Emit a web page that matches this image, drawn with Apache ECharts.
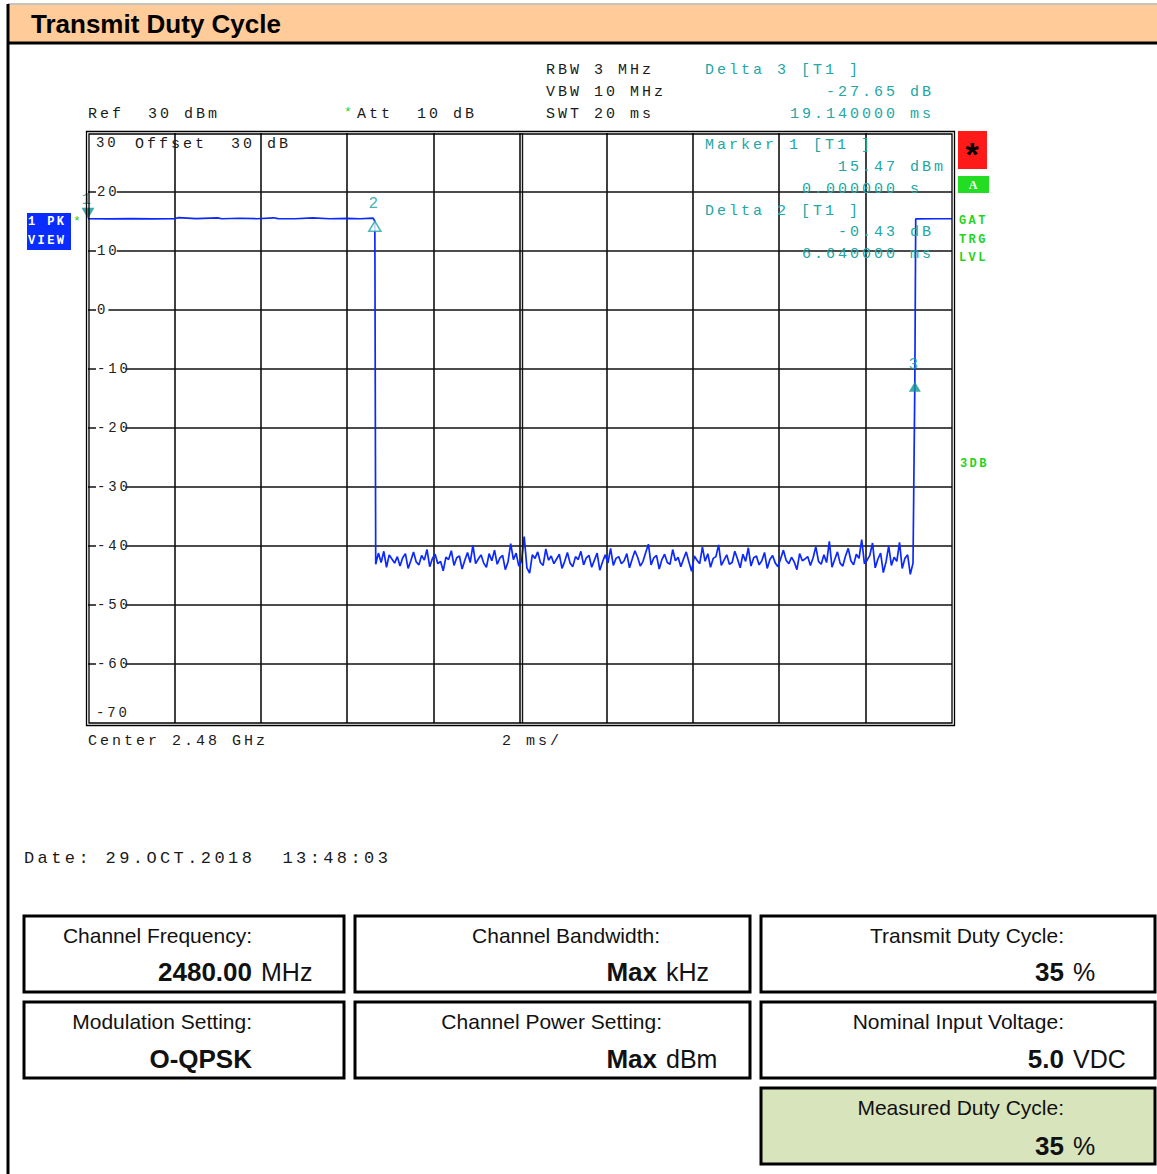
<!DOCTYPE html>
<html><head><meta charset="utf-8">
<script src="https://cdn.jsdelivr.net/npm/echarts@6/dist/echarts.min.js"></script>
<style>
html,body{margin:0;padding:0;background:#fff}
#c{width:1157px;height:1174px}
#c text[style*="Liberation Mono"]{letter-spacing:0.2em}
</style></head><body><div id="c"></div>
<script>
// ---------------- data ----------------
const sweepStartMs = 0, sweepEndMs = 20, msPerDiv = 2;
const refLevel = 30, bottomLevel = -70, dbPerDiv = 10;

// high (transmit) segment, ms / dBm
const highTimes  = [0, 0.5, 1.0, 1.5, 2.0, 2.1, 2.5, 3.0, 3.1, 3.5, 3.9, 4.3, 4.4, 4.8, 5.2, 5.6, 6.0, 6.3, 6.6, 6.64];
const highLevels = [15.47, 15.45, 15.5, 15.46, 15.47, 15.65, 15.48, 15.62, 15.47, 15.55, 15.47, 15.63, 15.5, 15.47, 15.6, 15.47, 15.52, 15.47, 15.58, 15.04];

// noise floor (transmitter off), one value per sweep point
const noiseStartMs = 6.66, noiseStepMs = 0.0625;
const noiseLevels = [
-43.1,-41.2,-42.8,-40.9,-43.6,-41.5,-42.2,-42.9,-41.8,-43.4,-42.0,-41.3,-43.8,-42.5,-41.0,-42.7,-43.2,-41.6,-42.4,-40.6,
-43.5,-42.1,-41.4,-43.0,-42.6,-44.2,-41.9,-42.3,-40.8,-43.3,-42.0,-41.7,-43.9,-42.4,-41.1,-42.8,-39.9,-43.0,-42.2,-41.5,
-42.9,-43.6,-41.3,-42.5,-40.7,-43.1,-42.0,-41.6,-44.0,-42.7,-39.6,-42.3,-41.2,-43.4,-42.6,-38.4,-43.7,-44.6,-41.5,-42.1,
-41.0,-42.8,-43.3,-40.5,-42.4,-41.7,-43.0,-42.2,-41.4,-43.8,-42.6,-41.1,-42.9,-43.5,-41.8,-42.3,-40.9,-43.2,-42.0,-41.6,
-43.6,-42.4,-41.2,-44.1,-42.7,-41.5,-42.9,-40.4,-43.3,-42.1,-41.8,-43.0,-42.5,-41.3,-43.7,-42.2,-40.8,-41.9,-43.4,-42.6,
-41.1,-39.7,-43.2,-42.0,-41.6,-43.9,-42.3,-41.4,-42.8,-43.1,-40.6,-42.5,-41.9,-43.5,-42.2,-41.0,-42.7,-44.3,-41.7,-42.4,
-43.0,-40.2,-42.6,-41.3,-43.6,-42.1,-41.8,-39.8,-43.3,-42.4,-41.5,-43.1,-42.8,-40.9,-42.2,-43.7,-41.4,-42.6,-40.3,-43.4,
-42.0,-41.7,-43.2,-42.5,-41.1,-43.8,-42.3,-41.6,-42.9,-43.5,-42.1,-40.7,-42.4,-43.0,-41.9,-42.7,-44.0,-41.3,-42.5,-42.2,
-41.8,-43.3,-42.0,-40.1,-42.6,-43.1,-41.5,-42.8,-39.2,-43.6,-42.3,-41.0,-42.9,-43.4,-41.7,-40.4,-42.5,-43.2,-41.4,-42.1,
-38.9,-43.0,-42.4,-41.6,-39.5,-43.7,-42.2,-41.2,-44.5,-42.7,-40.0,-43.3,-41.9,-42.6,-39.4,-43.8,-42.1,-41.5,-44.8,-42.9
];

// rising edge and final high segment
const tailTimes  = [19.14, 19.16, 19.6, 20];
const tailLevels = [-12.18, 15.44, 15.47, 15.47];

// markers
const markerNames  = ['1', '2', '3'];
const markerTimes  = [0, 6.64, 19.14];
const markerLevels = [15.47, 15.04, -12.18];

// ---------------- build ----------------
const trace = [];
highTimes.forEach((t, i) => trace.push([t, highLevels[i]]));
noiseLevels.forEach((v, i) => trace.push([+(noiseStartMs + i * noiseStepMs).toFixed(4), v]));
tailTimes.forEach((t, i) => trace.push([t, tailLevels[i]]));

const TEAL = '#22a6a6', DARKTEAL = '#119494', INK = '#1a1a1a', GREEN = '#1fd41f';
const MONO = '"Liberation Mono"', SANS = '"Liberation Sans"';

function txt(text, x, y, o) {
  o = o || {};
  return { type: 'text', x: x, y: y, z: 100, silent: true,
    style: { text: text, fill: o.fill || INK,
      font: (o.weight || 'normal') + ' ' + (o.size || 15) + 'px ' + (o.family || MONO),
      align: o.align || 'left', verticalAlign: 'middle' } };
}
function box(x, y, w, h, fill, stroke, lw) {
  return { type: 'rect', z: 50, silent: true, shape: { x: x, y: y, width: w, height: h },
    style: { fill: fill || 'none', stroke: stroke || 'none', lineWidth: lw || 0 } };
}
function line(x1, y1, x2, y2, stroke, lw) {
  return { type: 'line', z: 60, silent: true, shape: { x1: x1, y1: y1, x2: x2, y2: y2 },
    style: { stroke: stroke, lineWidth: lw } };
}
const LBL = { family: SANS, size: 21, align: 'right', fill: '#111' };
const VAL = { family: SANS, size: 26, weight: 'bold', align: 'right', fill: '#111' };
const UNIT = { family: SANS, size: 25, fill: '#111' };

const graphic = [
  // page header
  box(8, 5, 1149, 38, '#FFCC99'),
  line(8, 4, 1157, 4, '#888', 1),
  line(8, 43, 1157, 43, '#000', 3),
  line(8, 4, 8, 1174, '#000', 3),
  txt('Transmit Duty Cycle', 31, 24, { family: SANS, size: 26, weight: 'bold', fill: '#000' }),

  // analyzer frame (double line)
  box(86.5, 131.5, 868, 594, 'none', '#000', 1.3),
  box(89, 134, 863, 589, 'none', '#000', 1.3),

  // header texts of the analyzer screen
  txt('RBW 3 MHz', 546, 70), txt('VBW 10 MHz', 546, 92), txt('SWT 20 ms', 546, 114),
  txt('Ref  30 dBm', 88, 114),
  txt('*', 344, 112, { fill: GREEN, size: 13 }), txt('Att  10 dB', 357, 114),
  txt('Delta 3 [T1 ]', 705, 70, { fill: TEAL }),
  txt('-27.65 dB', 826, 92, { fill: TEAL }),
  txt('19.140000 ms', 790, 114, { fill: TEAL }),
  txt('Offset  30 dB', 135, 144),
  txt('Marker 1 [T1 ]', 705, 145, { fill: TEAL }),
  txt('15.47 dBm', 838, 167, { fill: TEAL }),
  txt('0.000000 s', 802, 189, { fill: TEAL }),
  txt('Delta 2 [T1 ]', 705, 211, { fill: TEAL }),
  txt('-0.43 dB', 838, 232, { fill: TEAL }),
  txt('6.640000 ms', 802, 254, { fill: TEAL }),
  txt('Center 2.48 GHz', 88, 741), txt('2 ms/', 502, 741),
  txt('Date: 29.OCT.2018  13:48:03', 24, 858, { size: 17 }),

  // right status indicators
  box(958, 131, 29, 38, '#ff1a1a'),
  txt('*', 972, 154, { family: SANS, size: 34, weight: 'bold', fill: '#000', align: 'center' }),
  box(958, 176, 31, 17, '#22dd22'),
  txt('A', 973, 184.5, { family: '"Liberation Serif"', size: 12, weight: 'bold', fill: '#fff', align: 'center' }),
  txt('GAT', 959, 221, { size: 12, weight: 'bold', fill: GREEN }),
  txt('TRG', 959, 240, { size: 12, weight: 'bold', fill: GREEN }),
  txt('LVL', 959, 258, { size: 12, weight: 'bold', fill: GREEN }),
  txt('3DB', 960, 464, { size: 12, weight: 'bold', fill: GREEN }),

  // trace indicator
  box(27, 213, 44, 37, '#0a2cff'),
  txt('1 PK', 28, 222, { size: 12, weight: 'bold', fill: '#fff' }),
  txt('VIEW', 28, 241, { size: 12, weight: 'bold', fill: '#fff' }),
  txt('*', 73, 221, { fill: GREEN, size: 13 }),

  // bottom table
  box(24, 916, 320, 76, 'none', '#000', 3),
  box(355, 916, 395, 76, 'none', '#000', 3),
  box(761, 916, 394, 76, 'none', '#000', 3),
  box(24, 1002, 320, 76, 'none', '#000', 3),
  box(355, 1002, 395, 76, 'none', '#000', 3),
  box(761, 1002, 394, 76, 'none', '#000', 3),
  box(761, 1088, 394, 76, '#D8E4BC', '#000', 3),

  txt('Channel Frequency:', 252, 935, LBL),
  txt('2480.00', 252, 972, VAL), txt('MHz', 261, 972, UNIT),
  txt('Channel Bandwidth:', 660, 935, LBL),
  txt('Max', 657, 972, VAL), txt('kHz', 666, 972, UNIT),
  txt('Transmit Duty Cycle:', 1064, 935, LBL),
  txt('35', 1064, 972, VAL), txt('%', 1073, 972, UNIT),

  txt('Modulation Setting:', 252, 1021, LBL),
  txt('O-QPSK', 252, 1059, VAL),
  txt('Channel Power Setting:', 662, 1021, LBL),
  txt('Max', 657, 1059, VAL), txt('dBm', 666, 1059, UNIT),
  txt('Nominal Input Voltage:', 1064, 1021, LBL),
  txt('5.0', 1064, 1059, VAL), txt('VDC', 1073, 1059, UNIT),

  txt('Measured Duty Cycle:', 1064, 1107, LBL),
  txt('35', 1064, 1146, VAL), txt('%', 1073, 1146, UNIT)
];

const DOWN_TRI = 'path://M0,0 L12,0 L6,11 Z';
const UP_TRI = 'path://M6,0 L12,10 L0,10 Z';
const markerData = markerNames.map((n, i) => {
  const d = { name: n, value: [markerTimes[i], markerLevels[i]] };
  if (i === 0) {
    d.symbol = DOWN_TRI; d.symbolOffset = [0, '-50%']; d.symbolSize = [13, 11];
    d.itemStyle = { color: DARKTEAL };
    d.label = { distance: 0 };
  } else if (i === 1) {
    d.symbol = UP_TRI; d.symbolOffset = [0, '50%'];
    d.itemStyle = { color: '#fff', borderColor: TEAL, borderWidth: 1.6 };
    d.label = { distance: 9 };
  } else {
    d.symbol = UP_TRI; d.symbolOffset = [0, '50%'];
    d.itemStyle = { color: DARKTEAL };
    d.label = { distance: 9 };
  }
  return d;
});

const chart = echarts.init(document.getElementById('c'), null, { renderer: 'svg' });
chart.setOption({
  animation: false,
  backgroundColor: '#fff',
  grid: { left: 88, right: 205, top: 133, bottom: 451, show: false },
  xAxis: {
    type: 'value', min: sweepStartMs, max: sweepEndMs, interval: msPerDiv,
    axisLine: { show: false }, axisTick: { show: false }, axisLabel: { show: false },
    splitLine: { show: true, showMinLine: false, showMaxLine: false, lineStyle: { color: '#111', width: 1.6 } }
  },
  yAxis: {
    type: 'value', min: bottomLevel, max: refLevel, interval: dbPerDiv,
    axisLine: { show: false }, axisTick: { show: false },
    splitLine: { show: true, showMinLine: false, showMaxLine: false, lineStyle: { color: '#111', width: 1.6 } },
    axisLabel: {
      inside: true, margin: 8, color: '#222', fontFamily: 'Liberation Mono', fontSize: 14,
      verticalAlignMinLabel: 'bottom', verticalAlignMaxLabel: 'top',
      formatter: v => (v === refLevel || v === bottomLevel) ? '{p|' + v + '}' : '{w|' + v + '}',
      rich: {
        w: { backgroundColor: '#fff', padding: [1, 3, 1, 1], fontFamily: 'Liberation Mono', fontSize: 14, color: '#222' },
        p: { padding: [3, 0, 3, 0], fontFamily: 'Liberation Mono', fontSize: 14, color: '#222' }
      }
    }
  },
  graphic: graphic,
  series: [
    {
      type: 'line', data: [], z: 1, silent: true,
      markLine: { silent: true, symbol: 'none', label: { show: false },
        lineStyle: { color: '#111', width: 1.4, type: 'solid' },
        data: [{ xAxis: 10.06 }] }
    },
    {
      type: 'line', data: trace, showSymbol: false, symbol: 'none', z: 3, silent: true,
      lineStyle: { color: '#0a28ff', width: 1.7 }
    },
    {
      type: 'scatter', data: markerData, symbolSize: [12, 10], z: 4, silent: true, clip: false,
      label: { show: true, position: 'top', formatter: '{b}', color: '#169d9d', fontFamily: 'Liberation Mono', fontSize: 16 }
    }
  ]
});
</script></body></html>
